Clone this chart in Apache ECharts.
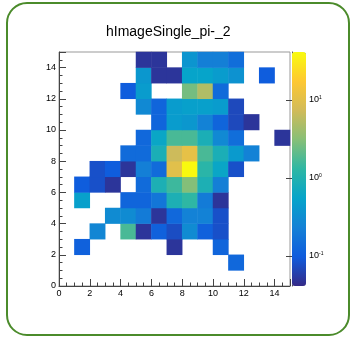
<!DOCTYPE html>
<html>
<head>
<meta charset="utf-8">
<script src="https://cdn.jsdelivr.net/npm/echarts@6/dist/echarts.min.js"></script>
<style>
html, body { margin: 0; padding: 0; background: #fff; }
#chart { width: 351px; height: 337px; }
</style>
</head>
<body>
<div id="chart"></div>
<script>
// Histogram title and binning (15 x 15 unit bins from 0 to 15)
const histTitle = 'hImageSingle_pi-_2';
const nBinsX = 15;
const nBinsY = 15;

// Bin contents, one array per y bin (bottom row first); 0 = empty bin
const row0  = [0, 0, 0, 0, 0, 0, 0, 0, 0, 0, 0, 0, 0, 0, 0];
const row1  = [0, 0, 0, 0, 0, 0, 0, 0, 0, 0, 0, 0.13, 0, 0, 0];
const row2  = [0, 0.11, 0, 0, 0, 0, 0, 0.05, 0, 0, 0.12, 0, 0, 0, 0];
const row3  = [0, 0, 0.26, 0, 1.7, 0.05, 0.11, 0.075, 0.30, 0.11, 0.08, 0, 0, 0, 0];
const row4  = [0, 0, 0, 0.30, 0.30, 0.20, 0.05, 0.13, 0.24, 0.24, 0.08, 0, 0, 0, 0];
const row5  = [0, 0.50, 0, 0, 0.12, 0.12, 0.18, 0.90, 1.3, 0.20, 0.05, 0, 0, 0, 0];
const row6  = [0, 0.10, 0.08, 0.05, 0, 0.14, 0.90, 1.5, 3.0, 0.90, 0.22, 0, 0, 0, 0];
const row7  = [0, 0, 0.08, 0.10, 0.05, 0.22, 0.14, 10, 40, 1.2, 0.60, 0.08, 0, 0, 0];
const row8  = [0, 0, 0, 0, 0.14, 0.14, 0.86, 7.0, 11, 1.7, 0.86, 0.43, 0.24, 0, 0];
const row9  = [0, 0, 0, 0, 0, 0.13, 0.60, 1.7, 1.7, 0.86, 0.28, 0.15, 0, 0, 0.05];
const row10 = [0, 0, 0, 0, 0, 0, 0.12, 0.45, 0.40, 0.24, 0.12, 0.07, 0.05, 0, 0];
const row11 = [0, 0, 0, 0, 0, 0.28, 0.12, 0.45, 0.50, 0.50, 0.45, 0.07, 0, 0, 0];
const row12 = [0, 0, 0, 0, 0.10, 0.45, 0, 0, 2.6, 5.0, 0.14, 0, 0, 0, 0];
const row13 = [0, 0, 0, 0, 0, 0.40, 0.05, 0.05, 0.55, 0.55, 0.45, 0.35, 0, 0.10, 0];
const row14 = [0, 0, 0, 0, 0, 0.05, 0.05, 0, 0.38, 0.22, 0.22, 0.15, 0, 0, 0];
const rows = [row0, row1, row2, row3, row4, row5, row6, row7, row8, row9, row10, row11, row12, row13, row14];

// Colour (z) axis range, logarithmic
const zMin = 0.0412;
const zMax = 41.2;
const zDecades = [-1, 0, 1];

// Axis ranges and tick step
const axisMax = 15;
const tickStep = 2;

// kBird palette
const birdPalette = ['#352a87', '#0f5cdd', '#1481d6', '#06a4ca', '#2eb7a4',
                     '#87bf77', '#d1bb59', '#fec832', '#f9fb0e'];

const cells = [];
rows.forEach((row, j) => {
  row.forEach((v, i) => {
    if (v > 0) cells.push([i, j, v, Math.log10(v)]);
  });
});

const logMin = Math.log10(zMin);
const logMax = Math.log10(zMax);
const minorLogTicks = [];
for (let d = -2; d <= 1; d++) {
  for (let m = 2; m <= 9; m++) {
    const t = d + Math.log10(m);
    if (t >= logMin && t <= logMax) minorLogTicks.push(t);
  }
}

const binLabels = Array.from({ length: nBinsX }, (_, i) => String(i));
const FONT = '"Liberation Sans Narrow", "Liberation Sans", Arial, sans-serif';

const chart = echarts.init(document.getElementById('chart'), null, { renderer: 'canvas' });

const option = {
  backgroundColor: '#ffffff',
  animation: false,
  title: {
    text: histTitle,
    left: 106,
    top: 25,
    padding: 0,
    textStyle: { fontFamily: '"Liberation Sans", Arial, sans-serif', fontSize: 14, fontWeight: 'normal', color: '#000' }
  },
  graphic: [{
    type: 'rect',
    shape: { x: 7, y: 3, width: 342, height: 332, r: 20 },
    style: { fill: 'none', stroke: '#4b8b2b', lineWidth: 2 },
    silent: true,
    z: 100
  }],
  grid: [
    { left: 59, top: 52, width: 231, height: 234, show: true, borderColor: '#999', borderWidth: 1, backgroundColor: 'transparent' },
    { left: 292, top: 52, width: 14, height: 234, show: false }
  ],
  xAxis: [
    { type: 'category', gridIndex: 0, data: binLabels, show: false },
    {
      type: 'value', gridIndex: 0, position: 'bottom', min: 0, max: axisMax, interval: tickStep,
      axisLine: { show: true, lineStyle: { color: '#444', width: 1 } },
      axisTick: { show: true, inside: true, length: 7, lineStyle: { color: '#444' } },
      minorTick: { show: true, splitNumber: 4, length: 3.5, lineStyle: { color: '#444' } },
      splitLine: { show: false },
      axisLabel: { show: true, margin: 3, fontSize: 9, color: '#000', fontFamily: FONT, showMaxLabel: false }
    },
    { type: 'value', gridIndex: 1, show: false, min: 0, max: 1 }
  ],
  yAxis: [
    { type: 'category', gridIndex: 0, data: binLabels, show: false },
    {
      type: 'value', gridIndex: 0, position: 'left', min: 0, max: axisMax, interval: tickStep,
      axisLine: { show: true, lineStyle: { color: '#444', width: 1 } },
      axisTick: { show: true, inside: true, length: 7, lineStyle: { color: '#444' } },
      minorTick: { show: true, splitNumber: 4, length: 3.5, lineStyle: { color: '#444' } },
      splitLine: { show: false },
      axisLabel: { show: true, margin: 3, fontSize: 9, color: '#000', fontFamily: FONT, showMaxLabel: false }
    },
    {
      type: 'value', gridIndex: 1, position: 'right', min: logMin, max: logMax,
      axisLine: { show: true, lineStyle: { color: '#444', width: 1 } },
      axisTick: { show: true, inside: true, length: 6, customValues: zDecades, lineStyle: { color: '#444' } },
      splitLine: { show: false },
      axisLabel: {
        show: true, margin: 3, customValues: zDecades, color: '#000',
        formatter: v => '{b|10}{e|' + Math.round(v) + '}',
        rich: {
          b: { fontSize: 9, fontFamily: FONT, color: '#000' },
          e: { fontSize: 5, fontFamily: FONT, color: '#000', verticalAlign: 'top', padding: [0, 0, 5, 0] }
        }
      }
    },
    {
      type: 'value', gridIndex: 1, position: 'right', min: logMin, max: logMax,
      axisLine: { show: false },
      axisTick: { show: true, inside: true, length: 3.5, customValues: minorLogTicks, lineStyle: { color: '#444' } },
      splitLine: { show: false },
      axisLabel: { show: false }
    }
  ],
  visualMap: {
    type: 'continuous',
    seriesIndex: 0,
    dimension: 3,
    min: logMin,
    max: logMax,
    calculable: false,
    realtime: false,
    orient: 'vertical',
    left: 292,
    top: 52,
    itemWidth: 14,
    itemHeight: 234,
    padding: 0,
    text: null,
    showLabel: false,
    inRange: { color: birdPalette }
  },
  series: [{
    type: 'heatmap',
    xAxisIndex: 0,
    yAxisIndex: 0,
    data: cells,
    itemStyle: { borderWidth: 0 },
    emphasis: { disabled: true }
  }]
};

chart.setOption(option);
</script>
</body>
</html>
